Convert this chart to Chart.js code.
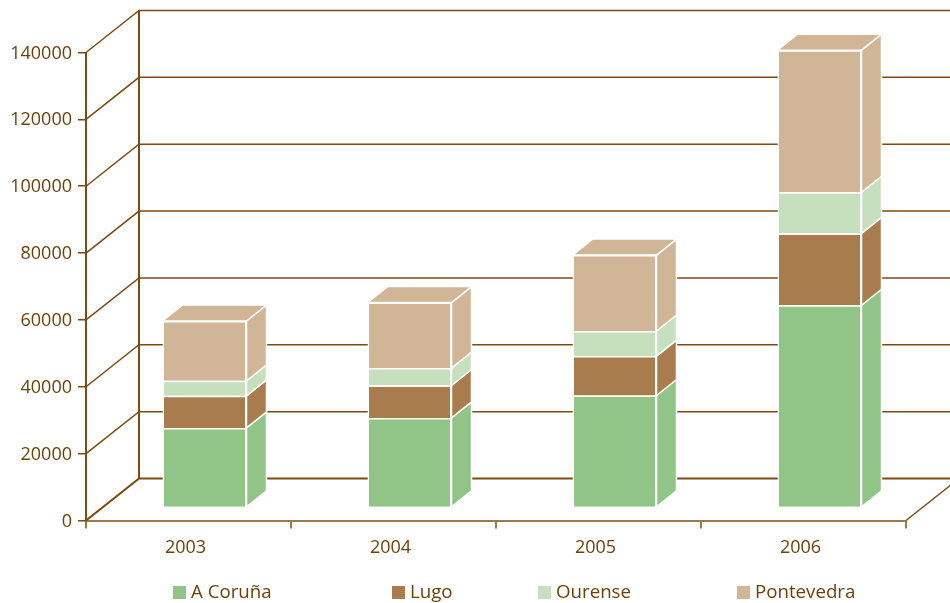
<!DOCTYPE html>
<html>
<head>
<meta charset="utf-8">
<title>Stacked bars 2003-2006</title>
<script src="https://cdn.jsdelivr.net/npm/chart.js@4/dist/chart.umd.js"></script>
<style>
  html, body { margin: 0; padding: 0; background: #fff; overflow: hidden; }
  #wrap { width: 950px; height: 603px; }
</style>
</head>
<body>
<div id="wrap"><canvas id="chart" width="950" height="603"></canvas></div>
<script>
const years = ['2003', '2004', '2005', '2006'];
const seriesNames = ['A Coruña', 'Lugo', 'Ourense', 'Pontevedra'];
const aCoruna = [23800, 26800, 33500, 60500];
const lugo = [9600, 9700, 11800, 21500];
const ourense = [4500, 5200, 7500, 12300];
const pontevedra = [17900, 19600, 22700, 42500];
const yTicks = [0, 20000, 40000, 60000, 80000, 100000, 120000, 140000];

const LINE = '#7d4a10';
const AXIS = '#9c7a50';
const TEXT = '#6f3f08';
const FONT = { family: '"Open Sans", sans-serif', size: 18 };
const colors = ['#90c587', '#a97c4e', '#c6dfbc', '#d1b597'];

// 3d depth of the box (wall) and of the bars
const wall = { dx: 53, dy: -42 };
const bar = { dx: 20, dy: -16, shiftX: 16, shiftY: -13 };
const legendX = [173, 392, 538, 737];

const threeD = {
  id: 'threeD',
  beforeDatasetsDraw(chart) {
    const { ctx, chartArea: a, scales: { y } } = chart;
    ctx.save();
    ctx.strokeStyle = LINE;
    yTicks.forEach((t) => {
      const py = y.getPixelForValue(t);
      ctx.lineWidth = t === 0 ? 2.2 : 1.5;
      ctx.beginPath();
      ctx.moveTo(a.left, py);
      ctx.lineTo(a.left + wall.dx, py + wall.dy);
      ctx.lineTo(a.right + wall.dx, py + wall.dy);
      ctx.stroke();
    });
    ctx.lineWidth = 2;
    ctx.beginPath();
    ctx.moveTo(a.left + wall.dx, a.top + wall.dy);
    ctx.lineTo(a.left + wall.dx, a.bottom + wall.dy);
    ctx.stroke();
    ctx.lineWidth = 1.5;
    ctx.beginPath();
    ctx.moveTo(a.right, a.bottom);
    ctx.lineTo(a.right + wall.dx, a.bottom + wall.dy);
    ctx.stroke();
    ctx.restore();

    // front faces are drawn by the library, just moved into the box
    ctx.save();
    ctx.translate(bar.shiftX, bar.shiftY);
  },
  afterDatasetsDraw(chart) {
    const { ctx } = chart;
    ctx.strokeStyle = '#fff';
    ctx.lineWidth = 1.5;
    ctx.lineJoin = 'round';
    chart.data.datasets.forEach((ds, i) => {
      chart.getDatasetMeta(i).data.forEach((el) => {
        const p = el.getProps(['x', 'y', 'base', 'width'], true);
        const r = p.x + p.width / 2;
        const l = p.x - p.width / 2;
        ctx.fillStyle = ds.backgroundColor;
        ctx.beginPath();
        ctx.moveTo(r, p.y);
        ctx.lineTo(r + bar.dx, p.y + bar.dy);
        ctx.lineTo(r + bar.dx, p.base + bar.dy);
        ctx.lineTo(r, p.base);
        ctx.closePath();
        ctx.fill();
        ctx.stroke();
        if (i === chart.data.datasets.length - 1) {
          ctx.beginPath();
          ctx.moveTo(l, p.y);
          ctx.lineTo(l + bar.dx, p.y + bar.dy);
          ctx.lineTo(r + bar.dx, p.y + bar.dy);
          ctx.lineTo(r, p.y);
          ctx.closePath();
          ctx.fill();
          ctx.stroke();
        }
      });
    });
    ctx.restore();
  },
  afterDraw(chart) {
    const { ctx } = chart;
    ctx.save();
    ctx.font = '18.7px ' + FONT.family;
    ctx.textBaseline = 'middle';
    chart.data.datasets.forEach((ds, i) => {
      ctx.fillStyle = ds.backgroundColor;
      ctx.fillRect(legendX[i], 586, 13, 13);
      ctx.fillStyle = TEXT;
      ctx.fillText(ds.label, legendX[i] + 18, 593);
    });
    ctx.restore();
  },
};

new Chart(document.getElementById('chart'), {
  type: 'bar',
  data: {
    labels: years,
    datasets: [aCoruna, lugo, ourense, pontevedra].map((values, i) => ({
      label: seriesNames[i],
      data: values,
      backgroundColor: colors[i],
      borderColor: '#fff',
      borderWidth: 1.5,
      barPercentage: 84 / 205,
      categoryPercentage: 1,
      clip: false,
    })),
  },
  options: {
    responsive: false,
    animation: false,
    layout: { padding: { top: 52.5, right: 44, bottom: 32.5, left: 0 } },
    plugins: { legend: { display: false }, tooltip: { enabled: false } },
    scales: {
      x: {
        stacked: true,
        afterFit: (s) => { s.height = 50; },
        grid: { drawOnChartArea: false, color: AXIS, tickLength: 8, lineWidth: 2 },
        border: { color: AXIS, width: 2 },
        ticks: { color: TEXT, font: FONT, padding: 9, labelOffset: -3, maxRotation: 0 },
      },
      y: {
        stacked: true,
        min: 0,
        max: 140000,
        afterFit: (s) => { s.width = 86; },
        afterBuildTicks: (s) => { s.ticks = yTicks.map((value) => ({ value })); },
        grid: { drawOnChartArea: false, color: LINE, tickLength: 8, lineWidth: 1.5 },
        border: { color: LINE, width: 2 },
        ticks: { color: TEXT, font: FONT, padding: 6, labelOffset: 1, callback: (v) => String(v) },
      },
    },
  },
  plugins: [threeD],
});
</script>
</body>
</html>
